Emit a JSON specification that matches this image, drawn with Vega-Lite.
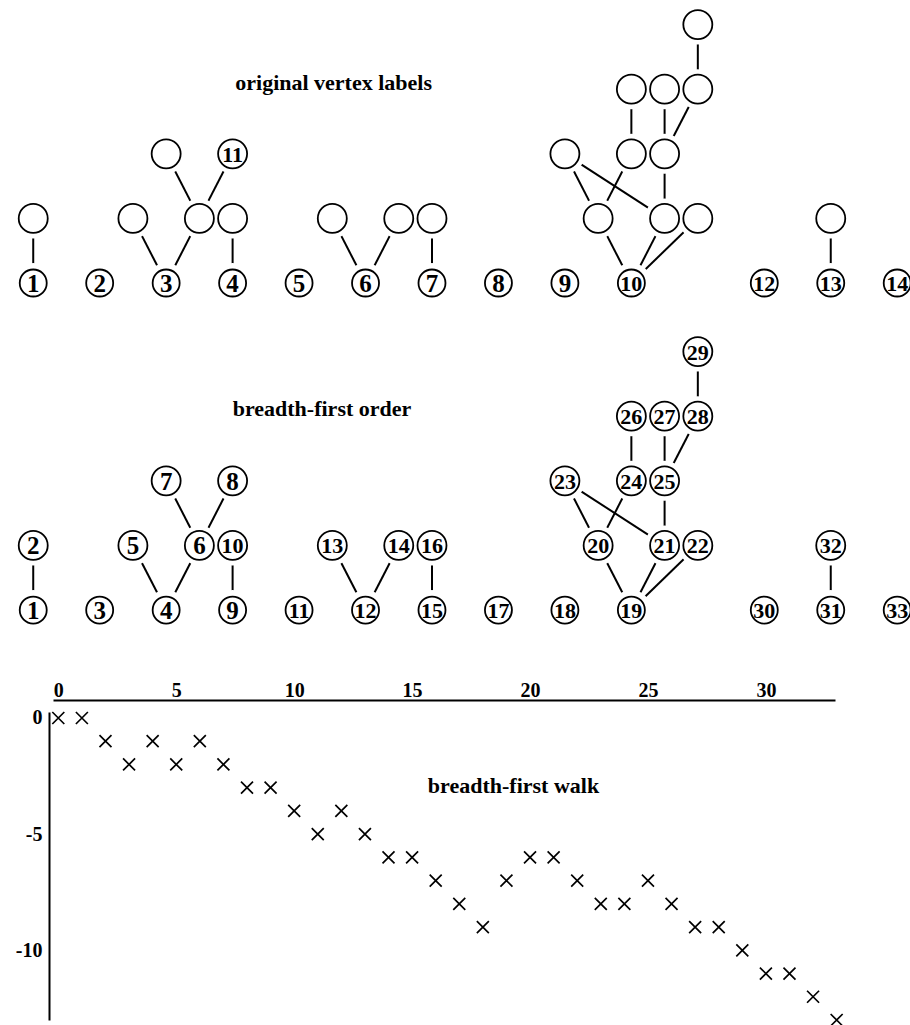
{
  "$schema": "https://vega.github.io/schema/vega-lite/v6.json",
  "padding": 0,
  "spacing": 0,
  "background": "white",
  "config": {"view": {"stroke": null}},
  "datasets": {
    "f1": [
      {"c": 1, "l": 0, "t": "1"}, {"c": 3, "l": 0, "t": "2"}, {"c": 5, "l": 0, "t": "3"}, {"c": 7, "l": 0, "t": "4"},
      {"c": 9, "l": 0, "t": "5"}, {"c": 11, "l": 0, "t": "6"}, {"c": 13, "l": 0, "t": "7"}, {"c": 15, "l": 0, "t": "8"},
      {"c": 17, "l": 0, "t": "9"}, {"c": 19, "l": 0, "t": "10"}, {"c": 23, "l": 0, "t": "12"}, {"c": 25, "l": 0, "t": "13"},
      {"c": 27, "l": 0, "t": "14"},
      {"c": 1, "l": 1, "t": ""}, {"c": 4, "l": 1, "t": ""}, {"c": 6, "l": 1, "t": ""}, {"c": 7, "l": 1, "t": ""},
      {"c": 10, "l": 1, "t": ""}, {"c": 12, "l": 1, "t": ""}, {"c": 13, "l": 1, "t": ""}, {"c": 18, "l": 1, "t": ""},
      {"c": 20, "l": 1, "t": ""}, {"c": 21, "l": 1, "t": ""}, {"c": 25, "l": 1, "t": ""},
      {"c": 5, "l": 2, "t": ""}, {"c": 7, "l": 2, "t": "11"}, {"c": 17, "l": 2, "t": ""}, {"c": 19, "l": 2, "t": ""},
      {"c": 20, "l": 2, "t": ""},
      {"c": 19, "l": 3, "t": ""}, {"c": 20, "l": 3, "t": ""}, {"c": 21, "l": 3, "t": ""},
      {"c": 21, "l": 4, "t": ""}
    ],
    "f2": [
      {"c": 1, "l": 0, "t": "1"}, {"c": 3, "l": 0, "t": "3"}, {"c": 5, "l": 0, "t": "4"}, {"c": 7, "l": 0, "t": "9"},
      {"c": 9, "l": 0, "t": "11"}, {"c": 11, "l": 0, "t": "12"}, {"c": 13, "l": 0, "t": "15"}, {"c": 15, "l": 0, "t": "17"},
      {"c": 17, "l": 0, "t": "18"}, {"c": 19, "l": 0, "t": "19"}, {"c": 23, "l": 0, "t": "30"}, {"c": 25, "l": 0, "t": "31"},
      {"c": 27, "l": 0, "t": "33"},
      {"c": 1, "l": 1, "t": "2"}, {"c": 4, "l": 1, "t": "5"}, {"c": 6, "l": 1, "t": "6"}, {"c": 7, "l": 1, "t": "10"},
      {"c": 10, "l": 1, "t": "13"}, {"c": 12, "l": 1, "t": "14"}, {"c": 13, "l": 1, "t": "16"}, {"c": 18, "l": 1, "t": "20"},
      {"c": 20, "l": 1, "t": "21"}, {"c": 21, "l": 1, "t": "22"}, {"c": 25, "l": 1, "t": "32"},
      {"c": 5, "l": 2, "t": "7"}, {"c": 7, "l": 2, "t": "8"}, {"c": 17, "l": 2, "t": "23"}, {"c": 19, "l": 2, "t": "24"},
      {"c": 20, "l": 2, "t": "25"},
      {"c": 19, "l": 3, "t": "26"}, {"c": 20, "l": 3, "t": "27"}, {"c": 21, "l": 3, "t": "28"},
      {"c": 21, "l": 4, "t": "29"}
    ],
    "edges": [
      {"c1": 1, "l1": 0, "c2": 1, "l2": 1},
      {"c1": 5, "l1": 0, "c2": 4, "l2": 1},
      {"c1": 5, "l1": 0, "c2": 6, "l2": 1},
      {"c1": 7, "l1": 0, "c2": 7, "l2": 1},
      {"c1": 6, "l1": 1, "c2": 5, "l2": 2},
      {"c1": 6, "l1": 1, "c2": 7, "l2": 2},
      {"c1": 11, "l1": 0, "c2": 10, "l2": 1},
      {"c1": 11, "l1": 0, "c2": 12, "l2": 1},
      {"c1": 13, "l1": 0, "c2": 13, "l2": 1},
      {"c1": 19, "l1": 0, "c2": 18, "l2": 1},
      {"c1": 19, "l1": 0, "c2": 20, "l2": 1},
      {"c1": 19, "l1": 0, "c2": 21, "l2": 1},
      {"c1": 18, "l1": 1, "c2": 17, "l2": 2},
      {"c1": 18, "l1": 1, "c2": 19, "l2": 2},
      {"c1": 20, "l1": 1, "c2": 17, "l2": 2},
      {"c1": 20, "l1": 1, "c2": 20, "l2": 2},
      {"c1": 19, "l1": 2, "c2": 19, "l2": 3},
      {"c1": 20, "l1": 2, "c2": 20, "l2": 3},
      {"c1": 20, "l1": 2, "c2": 21, "l2": 3},
      {"c1": 21, "l1": 3, "c2": 21, "l2": 4},
      {"c1": 25, "l1": 0, "c2": 25, "l2": 1}
    ],
    "walk": [
      {"k": 0, "w": 0}, {"k": 1, "w": 0}, {"k": 2, "w": -1}, {"k": 3, "w": -2}, {"k": 4, "w": -1},
      {"k": 5, "w": -2}, {"k": 6, "w": -1}, {"k": 7, "w": -2}, {"k": 8, "w": -3}, {"k": 9, "w": -3},
      {"k": 10, "w": -4}, {"k": 11, "w": -5}, {"k": 12, "w": -4}, {"k": 13, "w": -5}, {"k": 14, "w": -6},
      {"k": 15, "w": -6}, {"k": 16, "w": -7}, {"k": 17, "w": -8}, {"k": 18, "w": -9}, {"k": 19, "w": -7},
      {"k": 20, "w": -6}, {"k": 21, "w": -6}, {"k": 22, "w": -7}, {"k": 23, "w": -8}, {"k": 24, "w": -8},
      {"k": 25, "w": -7}, {"k": 26, "w": -8}, {"k": 27, "w": -9}, {"k": 28, "w": -9}, {"k": 29, "w": -10},
      {"k": 30, "w": -11}, {"k": 31, "w": -11}, {"k": 32, "w": -12}, {"k": 33, "w": -13}
    ]
  },
  "vconcat": [
    {
      "width": 857,
      "height": 327,
      "layer": [
        {
          "data": {"name": "edges"},
          "mark": {"type": "rule", "stroke": "black", "strokeWidth": 2},
          "encoding": {
            "x": {"field": "c1", "type": "quantitative", "scale": {"domain": [1.595, 27.385], "nice": false, "zero": false}, "axis": null},
            "y": {"field": "l1", "type": "quantitative", "scale": {"domain": [-0.681, 4.381], "nice": false, "zero": false}, "axis": null},
            "x2": {"field": "c2"},
            "y2": {"field": "l2"}
          }
        },
        {
          "data": {"name": "f1"},
          "mark": {"type": "point", "shape": "circle", "filled": true, "color": "white", "opacity": 1, "size": 1600},
          "encoding": {
            "x": {"field": "c", "type": "quantitative", "scale": {"domain": [1.595, 27.385], "nice": false, "zero": false}, "axis": null},
            "y": {"field": "l", "type": "quantitative", "scale": {"domain": [-0.681, 4.381], "nice": false, "zero": false}, "axis": null}
          }
        },
        {
          "data": {"name": "f1"},
          "transform": [{"filter": "datum.l == 0"}],
          "mark": {"type": "point", "shape": "circle", "filled": false, "color": "black", "opacity": 1, "strokeWidth": 1.8, "size": 729},
          "encoding": {
            "x": {"field": "c", "type": "quantitative", "scale": {"domain": [1.595, 27.385], "nice": false, "zero": false}, "axis": null},
            "y": {"field": "l", "type": "quantitative", "scale": {"domain": [-0.681, 4.381], "nice": false, "zero": false}, "axis": null}
          }
        },
        {
          "data": {"name": "f1"},
          "transform": [{"filter": "datum.l > 0"}],
          "mark": {"type": "point", "shape": "circle", "filled": false, "color": "black", "opacity": 1, "strokeWidth": 1.8, "size": 841},
          "encoding": {
            "x": {"field": "c", "type": "quantitative", "scale": {"domain": [1.595, 27.385], "nice": false, "zero": false}, "axis": null},
            "y": {"field": "l", "type": "quantitative", "scale": {"domain": [-0.681, 4.381], "nice": false, "zero": false}, "axis": null}
          }
        },
        {
          "data": {"name": "f1"},
          "transform": [{"filter": "length(datum.t) == 1"}],
          "mark": {"type": "text", "font": "Liberation Serif", "fontWeight": "bold", "fontSize": 25, "align": "center", "baseline": "middle", "color": "black", "dy": 1},
          "encoding": {
            "x": {"field": "c", "type": "quantitative", "scale": {"domain": [1.595, 27.385], "nice": false, "zero": false}, "axis": null},
            "y": {"field": "l", "type": "quantitative", "scale": {"domain": [-0.681, 4.381], "nice": false, "zero": false}, "axis": null},
            "text": {"field": "t"}
          }
        },
        {
          "data": {"name": "f1"},
          "transform": [{"filter": "length(datum.t) == 2"}],
          "mark": {"type": "text", "font": "Liberation Serif", "fontWeight": "bold", "fontSize": 22, "align": "center", "baseline": "middle", "color": "black", "dy": 1},
          "encoding": {
            "x": {"field": "c", "type": "quantitative", "scale": {"domain": [1.595, 27.385], "nice": false, "zero": false}, "axis": null},
            "y": {"field": "l", "type": "quantitative", "scale": {"domain": [-0.681, 4.381], "nice": false, "zero": false}, "axis": null},
            "text": {"field": "t"}
          }
        },
        {
          "data": {"values": [{}]},
          "mark": {"type": "text", "font": "Liberation Serif", "fontWeight": "bold", "fontSize": 22, "align": "center", "baseline": "middle", "color": "black"},
          "encoding": {
            "x": {"datum": 10.04, "type": "quantitative", "scale": {"domain": [1.595, 27.385], "nice": false, "zero": false}, "axis": null},
            "y": {"datum": 3.09, "type": "quantitative", "scale": {"domain": [-0.681, 4.381], "nice": false, "zero": false}, "axis": null},
            "text": {"value": "original vertex labels"}
          }
        }
      ]
    },
    {
      "width": 857,
      "height": 353,
      "layer": [
        {
          "data": {"name": "edges"},
          "mark": {"type": "rule", "stroke": "black", "strokeWidth": 2},
          "encoding": {
            "x": {"field": "c1", "type": "quantitative", "scale": {"domain": [1.595, 27.385], "nice": false, "zero": false}, "axis": null},
            "y": {"field": "l1", "type": "quantitative", "scale": {"domain": [-1.083, 4.381], "nice": false, "zero": false}, "axis": null},
            "x2": {"field": "c2"},
            "y2": {"field": "l2"}
          }
        },
        {
          "data": {"name": "f2"},
          "mark": {"type": "point", "shape": "circle", "filled": true, "color": "white", "opacity": 1, "size": 1600},
          "encoding": {
            "x": {"field": "c", "type": "quantitative", "scale": {"domain": [1.595, 27.385], "nice": false, "zero": false}, "axis": null},
            "y": {"field": "l", "type": "quantitative", "scale": {"domain": [-1.083, 4.381], "nice": false, "zero": false}, "axis": null}
          }
        },
        {
          "data": {"name": "f2"},
          "transform": [{"filter": "datum.l == 0"}],
          "mark": {"type": "point", "shape": "circle", "filled": false, "color": "black", "opacity": 1, "strokeWidth": 1.8, "size": 729},
          "encoding": {
            "x": {"field": "c", "type": "quantitative", "scale": {"domain": [1.595, 27.385], "nice": false, "zero": false}, "axis": null},
            "y": {"field": "l", "type": "quantitative", "scale": {"domain": [-1.083, 4.381], "nice": false, "zero": false}, "axis": null}
          }
        },
        {
          "data": {"name": "f2"},
          "transform": [{"filter": "datum.l > 0"}],
          "mark": {"type": "point", "shape": "circle", "filled": false, "color": "black", "opacity": 1, "strokeWidth": 1.8, "size": 841},
          "encoding": {
            "x": {"field": "c", "type": "quantitative", "scale": {"domain": [1.595, 27.385], "nice": false, "zero": false}, "axis": null},
            "y": {"field": "l", "type": "quantitative", "scale": {"domain": [-1.083, 4.381], "nice": false, "zero": false}, "axis": null}
          }
        },
        {
          "data": {"name": "f2"},
          "transform": [{"filter": "length(datum.t) == 1"}],
          "mark": {"type": "text", "font": "Liberation Serif", "fontWeight": "bold", "fontSize": 25, "align": "center", "baseline": "middle", "color": "black", "dy": 1},
          "encoding": {
            "x": {"field": "c", "type": "quantitative", "scale": {"domain": [1.595, 27.385], "nice": false, "zero": false}, "axis": null},
            "y": {"field": "l", "type": "quantitative", "scale": {"domain": [-1.083, 4.381], "nice": false, "zero": false}, "axis": null},
            "text": {"field": "t"}
          }
        },
        {
          "data": {"name": "f2"},
          "transform": [{"filter": "length(datum.t) == 2"}],
          "mark": {"type": "text", "font": "Liberation Serif", "fontWeight": "bold", "fontSize": 22, "align": "center", "baseline": "middle", "color": "black", "dy": 1},
          "encoding": {
            "x": {"field": "c", "type": "quantitative", "scale": {"domain": [1.595, 27.385], "nice": false, "zero": false}, "axis": null},
            "y": {"field": "l", "type": "quantitative", "scale": {"domain": [-1.083, 4.381], "nice": false, "zero": false}, "axis": null},
            "text": {"field": "t"}
          }
        },
        {
          "data": {"values": [{}]},
          "mark": {"type": "text", "font": "Liberation Serif", "fontWeight": "bold", "fontSize": 22, "align": "center", "baseline": "middle", "color": "black"},
          "encoding": {
            "x": {"datum": 9.69, "type": "quantitative", "scale": {"domain": [1.595, 27.385], "nice": false, "zero": false}, "axis": null},
            "y": {"datum": 3.105, "type": "quantitative", "scale": {"domain": [-1.083, 4.381], "nice": false, "zero": false}, "axis": null},
            "text": {"value": "breadth-first order"}
          }
        }
      ]
    },
    {
      "width": 782,
      "height": 308,
      "layer": [
        {
          "data": {"name": "walk"},
          "mark": {"type": "point", "shape": "M-1,-1L1,1M-1,1L1,-1", "filled": false, "color": "black", "opacity": 1, "strokeWidth": 1.7, "size": 144},
          "encoding": {
            "x": {
              "field": "k", "type": "quantitative",
              "scale": {"domain": [-0.225, 32.93], "nice": false, "zero": false},
              "axis": {
                "orient": "top", "offset": 12, "values": [0, 5, 10, 15, 20, 25, 30], "ticks": false, "tickSize": 0,
                "grid": false, "domainColor": "black", "domainWidth": 2, "labelFont": "Liberation Serif",
                "labelFontWeight": "bold", "labelFontSize": 20, "labelColor": "black", "labelPadding": 0,
                "labelFlush": false, "labelOverlap": false, "minExtent": 20, "maxExtent": 20, "title": null,
                "labelExpr": "datum.value + ''"
              }
            },
            "y": {
              "field": "w", "type": "quantitative",
              "scale": {"domain": [-13, 0.258], "nice": false, "zero": false},
              "axis": {
                "orient": "left", "offset": 4, "values": [0, -5, -10], "ticks": false, "tickSize": 0,
                "grid": false, "domainColor": "black", "domainWidth": 2, "labelFont": "Liberation Serif",
                "labelFontWeight": "bold", "labelFontSize": 20, "labelColor": "black", "labelPadding": 7,
                "labelFlush": false, "labelOverlap": false, "minExtent": 49, "maxExtent": 49, "title": null,
                "labelExpr": "datum.value + ''"
              }
            }
          }
        },
        {
          "data": {"values": [{}]},
          "mark": {"type": "text", "font": "Liberation Serif", "fontWeight": "bold", "fontSize": 22, "align": "center", "baseline": "middle", "color": "black"},
          "encoding": {
            "x": {"datum": 19.3, "type": "quantitative", "title": null},
            "y": {"datum": -2.93, "type": "quantitative", "title": null},
            "text": {"value": "breadth-first walk"}
          }
        }
      ]
    }
  ]
}
